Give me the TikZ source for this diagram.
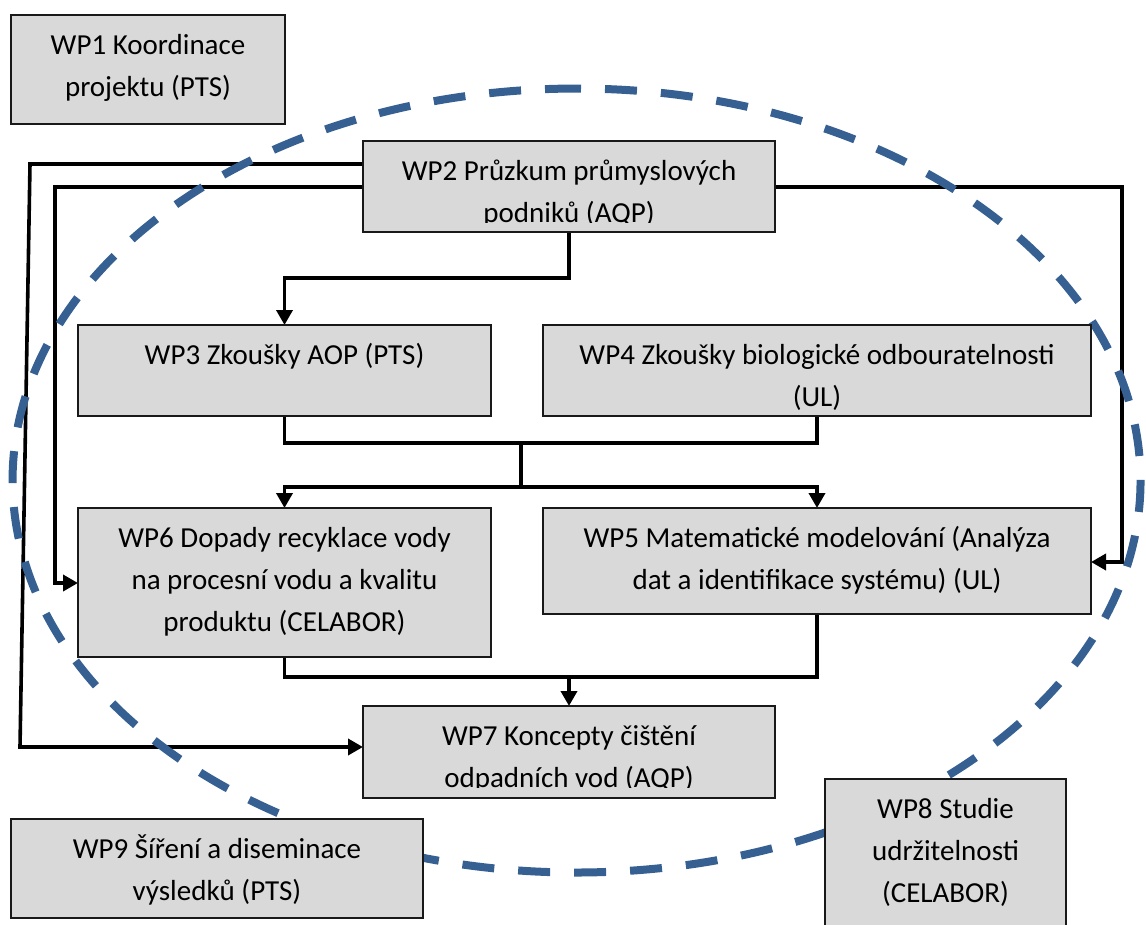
\documentclass[tikz,border=0pt]{standalone}
\usepackage{fontspec}
\setmainfont{Carlito}
\usetikzlibrary{arrows.meta,calc,backgrounds}
\definecolor{boxfill}{RGB}{217,217,217}
\definecolor{ringblue}{RGB}{54,96,146}
\newcommand{\fl}{\rule{0pt}{39pt}}
\begin{document}
\begin{tikzpicture}[x=1pt,y=-1pt,
  wpbox/.style={draw=black!90, line width=2.5pt, fill=boxfill, inner sep=0pt, outer sep=0pt, anchor=north west},
  wptext/.style={anchor=north, inner sep=0pt, outer sep=0pt, align=center, font=\fontsize{29}{42}\selectfont},
  conn/.style={line width=3.6pt, line join=miter},
  arr/.style={conn, -{Triangle[length=15pt,width=16pt]}},
  ring/.style={draw=ringblue, line width=8pt, dash pattern=on 32pt off 24pt}]
\useasboundingbox (0,0) rectangle (1146,924);

% boxes
\node[wpbox, minimum width=274pt, minimum height=109pt] (wp1) at (11,15) {};
\node[wpbox, minimum width=412pt, minimum height=91pt] (wp2) at (363,141) {};
\node[wpbox, minimum width=413pt, minimum height=91pt] (wp3) at (78,325) {};
\node[wpbox, minimum width=548pt, minimum height=91pt] (wp4) at (543,325) {};
\node[wpbox, minimum width=413pt, minimum height=149pt] (wp6) at (78,508) {};
\node[wpbox, minimum width=548pt, minimum height=106pt] (wp5) at (543,508) {};
\node[wpbox, minimum width=412pt, minimum height=92pt] (wp7) at (363,706) {};
\node[wpbox, minimum width=241pt, minimum height=150pt] (wp8) at (825,779) {};
\node[wpbox, minimum width=412pt, minimum height=99pt] (wp9) at (11,819) {};

\begin{pgfonlayer}{background}
\fill[white] (0,0) rectangle (1146,924);
% connectors
\coordinate (j1) at (521,443);
\coordinate (j2) at (521,487);
\coordinate (j3) at (569,677);
\draw[arr] ($(wp2.north west)+(0,23)$) -- (30,164) -- (20,747) -- (wp7.west |- 0,747);
\draw[arr] ($(wp2.north west)+(0,46)$) -- (55,187) -- (55,583) -- (wp6.west |- 0,583);
\draw[arr] ($(wp2.north east)+(0,46)$) -- (1122,187) -- (1122,562) -- (wp5.east |- 0,562);
\draw[arr] (wp2.south) -- (wp2.south |- 0,278) -- (wp3.north |- 0,278) -- (wp3.north);
\draw[conn] (wp3.south) -- (wp3.south |- j1) -- (wp4.south |- j1) -- (wp4.south);
\draw[conn] (j1) -- (j2);
\draw[arr] (j2) -- (wp6.north |- j2) -- (wp6.north);
\draw[arr] (j2) -- (wp5.north |- j2) -- (wp5.north);
\draw[conn] (wp6.south) -- (wp6.south |- j3) -- (wp5.south |- j3) -- (wp5.south);
\draw[arr] (j3) -- (wp7.north);
% dashed ring
\draw[ring] (549,89) arc[start angle=267.2, end angle=627.2, x radius=564, y radius=392];
\end{pgfonlayer}

% texts
\node[wptext] (wp1t) at (wp1.north) {\fl WP1 Koordinace\\projektu (PTS)};
\begin{scope}
  \clip (wp2.north west) rectangle ($(wp2.south east)+(0,-10)$);
  \node[wptext] (wp2t) at (wp2.north) {\fl WP2 Průzkum průmyslových\\podniků (AQP)};
\end{scope}
\node[wptext] (wp3t) at (wp3.north) {\fl WP3 Zkoušky AOP (PTS)};
\node[wptext] (wp4t) at (wp4.north) {\fl WP4 Zkoušky biologické odbouratelnosti\\(UL)};
\node[wptext] (wp6t) at (wp6.north) {\fl WP6 Dopady recyklace vody\\na procesní vodu a kvalitu\\produktu (CELABOR)};
\node[wptext] (wp5t) at (wp5.north) {\fl WP5 Matematické modelování (Analýza\\dat a identifikace systému) (UL)};
\begin{scope}
  \clip (wp7.north west) rectangle ($(wp7.south east)+(0,-11)$);
  \node[wptext] (wp7t) at (wp7.north) {\fl WP7 Koncepty čištění\\odpadních vod (AQP)};
\end{scope}
\node[wptext] (wp8t) at (wp8.north) {\fl WP8 Studie\\udržitelnosti\\(CELABOR)};
\node[wptext] (wp9t) at (wp9.north) {\fl WP9 Šíření a diseminace\\výsledků (PTS)};
\end{tikzpicture}
\end{document}
